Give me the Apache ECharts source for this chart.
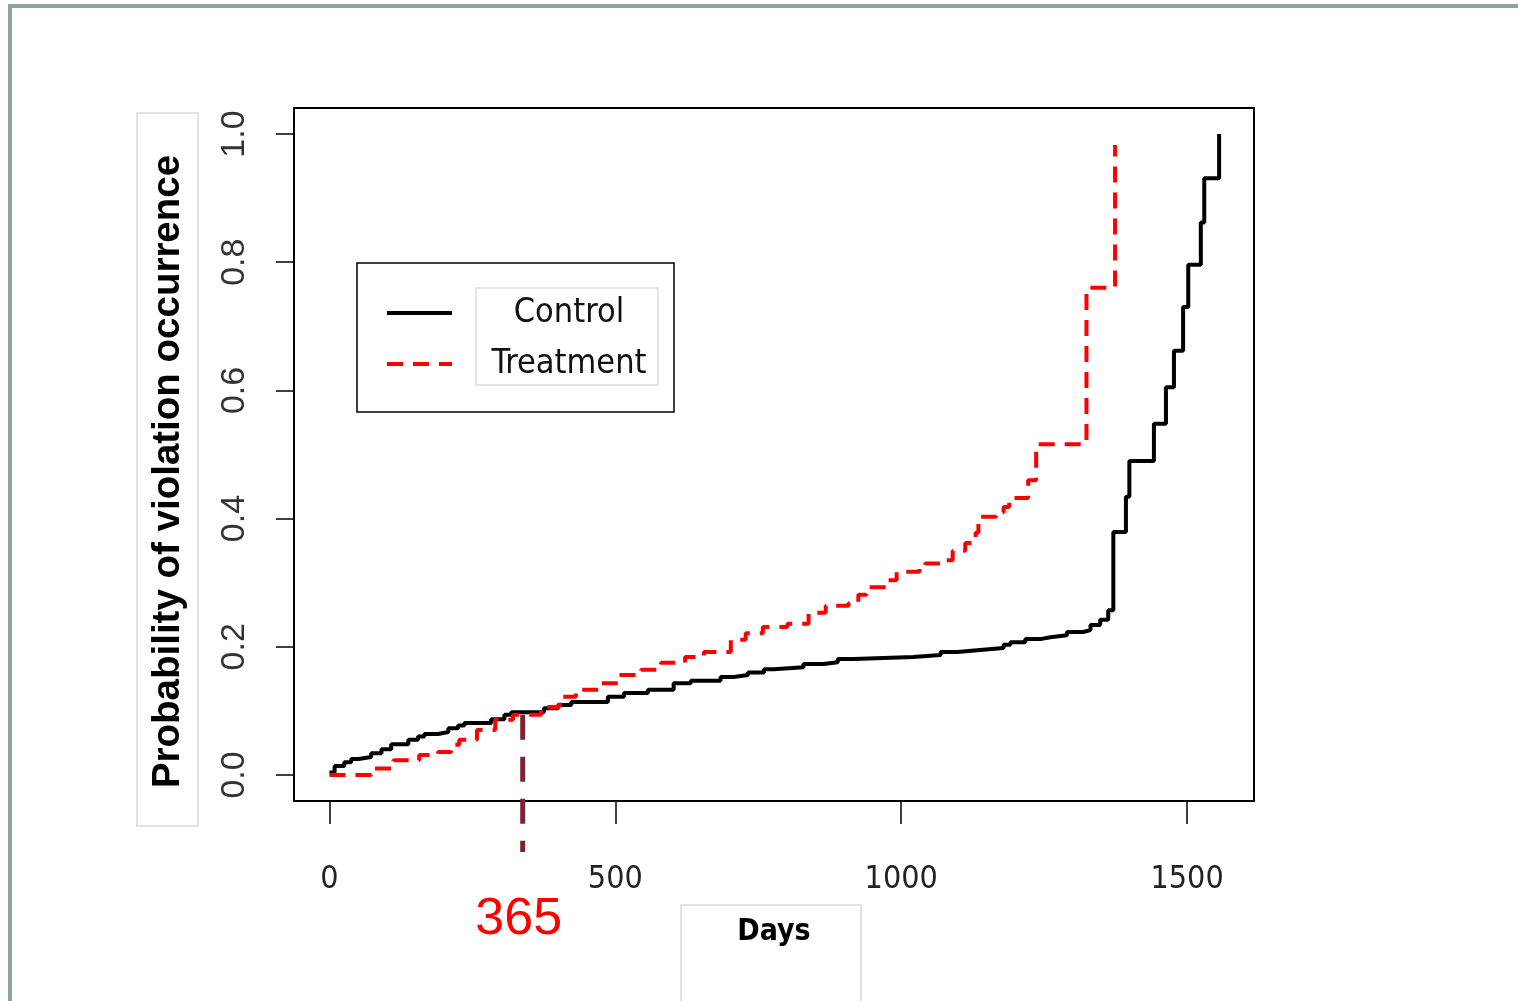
<!DOCTYPE html>
<html>
<head>
<meta charset="utf-8">
<script src="https://cdn.jsdelivr.net/npm/echarts@6/dist/echarts.min.js"></script>
<style>
html,body{margin:0;padding:0;background:#fff;}
#chart{width:1518px;height:1001px;}
</style>
</head>
<body>
<div id="chart"></div>
<script>
// ---- data ----
const controlDays = [0, 9, 26, 38, 51, 73, 91, 108, 138, 155, 166, 190, 208, 225, 236, 283, 306, 318, 375, 400, 423, 487, 515, 557, 602, 632, 684, 707, 732, 760, 777, 829, 864, 889, 917, 1021, 1069, 1098, 1138, 1179, 1191, 1217, 1243, 1261, 1290, 1318, 1331, 1348, 1362, 1371, 1393, 1399, 1442, 1463, 1477, 1493, 1502, 1524, 1530, 1556];
const controlProb = [0.004, 0.014, 0.020, 0.025, 0.028, 0.034, 0.040, 0.048, 0.055, 0.060, 0.064, 0.067, 0.073, 0.077, 0.081, 0.087, 0.094, 0.098, 0.104, 0.109, 0.114, 0.122, 0.128, 0.133, 0.143, 0.147, 0.153, 0.156, 0.160, 0.165, 0.168, 0.173, 0.176, 0.181, 0.184, 0.187, 0.192, 0.195, 0.198, 0.203, 0.207, 0.212, 0.215, 0.218, 0.223, 0.226, 0.234, 0.242, 0.257, 0.379, 0.434, 0.490, 0.548, 0.605, 0.662, 0.730, 0.796, 0.862, 0.931, 1.000];
const treatDays = [0, 73, 112, 157, 190, 213, 227, 258, 290, 321, 370, 402, 431, 471, 506, 545, 580, 622, 655, 702, 728, 758, 801, 838, 868, 908, 925, 939, 974, 992, 1032, 1042, 1069, 1090, 1112, 1130, 1135, 1166, 1179, 1189, 1222, 1236, 1324, 1374];
const treatProb = [0.000, 0.010, 0.023, 0.031, 0.036, 0.047, 0.055, 0.070, 0.086, 0.094, 0.106, 0.122, 0.133, 0.143, 0.156, 0.164, 0.175, 0.184, 0.192, 0.211, 0.221, 0.231, 0.236, 0.253, 0.264, 0.268, 0.281, 0.293, 0.304, 0.317, 0.325, 0.330, 0.335, 0.350, 0.362, 0.378, 0.403, 0.410, 0.418, 0.432, 0.460, 0.516, 0.760, 0.983];
const markerDays = [338, 338];
const markerProb = [0.094, -0.12];
const markerText = '365';
const xTicks = [0, 500, 1000, 1500];
const yTicks = [0, 0.2, 0.4, 0.6, 0.8, 1.0];
const seriesNames = ['Control', 'Treatment'];
const xTitle = 'Days';
const yTitle = 'Probability of violation occurrence';

const zip = (a, b) => a.map((v, i) => [v, b[i]]);
const narrow = '"Liberation Sans Narrow", "DejaVu Sans Condensed", "Liberation Sans", sans-serif';
const sans = '"Liberation Sans", Arial, sans-serif';

const chart = echarts.init(document.getElementById('chart'), null, {renderer: 'canvas'});
chart.setOption({
  animation: false,
  backgroundColor: '#ffffff',
  grid: {
    left: 294, right: 264, top: 108, bottom: 200,
    show: true, borderColor: '#000', borderWidth: 2, backgroundColor: 'transparent',
    containLabel: false, outerBoundsMode: 'none'
  },
  xAxis: {
    type: 'value', min: -62, max: 1617,
    splitLine: {show: false},
    axisLine: {show: false, onZero: false},
    axisTick: {show: true, inside: false, customValues: xTicks, length: 23, lineStyle: {color: '#000', width: 1.5}},
    axisLabel: {customValues: xTicks, margin: 63, fontSize: 32, fontFamily: narrow, color: '#222',
      formatter: v => String(v)},
    name: xTitle, nameLocation: 'middle', nameGap: 116,
    nameTextStyle: {fontSize: 30, fontWeight: 'bold', fontFamily: narrow, color: '#000'}
  },
  yAxis: {
    type: 'value', min: -0.0406, max: 1.0406,
    splitLine: {show: false},
    axisLine: {show: false, onZero: false},
    axisTick: {show: true, inside: false, customValues: yTicks, length: 18, lineStyle: {color: '#000', width: 1.5}},
    axisLabel: {customValues: yTicks, rotate: 90, margin: 42, fontSize: 34, fontFamily: sans, color: '#333',
      formatter: v => v.toFixed(1)},
    name: yTitle, nameLocation: 'middle', nameRotate: 90, nameGap: 106,
    nameTextStyle: {fontSize: 38.5, fontWeight: 'bold', fontFamily: sans, color: '#000', padding: [0, 34, 0, 0]}
  },
  legend: {
    data: seriesNames,
    orient: 'vertical', left: 357, top: 263,
    padding: [30, 14, 28, 28], itemGap: 11,
    itemWidth: 65, itemHeight: 20,
    borderColor: '#000', borderWidth: 1.5, backgroundColor: 'transparent',
    selectedMode: false,
    itemStyle: {opacity: 0},
    lineStyle: {width: 4},
    formatter: name => '{g|}{t|' + name + '}',
    textStyle: {
      color: '#111', fontSize: 34, fontFamily: narrow, lineHeight: 40,
      rich: {
        g: {width: 21},
        t: {width: 182, align: 'center', fontSize: 34, fontFamily: narrow, color: '#111', lineHeight: 40}
      }
    }
  },
  graphic: [
    {type: 'rect', silent: true, z: -10, shape: {x: 10, y: 6, width: 1600, height: 1100},
      style: {fill: 'none', stroke: '#8aa3a3', lineWidth: 4}},
    {type: 'rect', silent: true, z: -10, shape: {x: 137, y: 113, width: 61, height: 713},
      style: {fill: 'none', stroke: '#e2e2e2', lineWidth: 2}},
    {type: 'rect', silent: true, z: -10, shape: {x: 681, y: 905, width: 180, height: 130},
      style: {fill: 'none', stroke: '#e2e2e2', lineWidth: 2}},
    {type: 'rect', silent: true, z: -10, shape: {x: 476, y: 288, width: 182, height: 97},
      style: {fill: 'none', stroke: '#e6e6e6', lineWidth: 2}}
  ],
  series: [
    {
      name: seriesNames[0], type: 'line', step: 'end', symbol: 'none',
      data: zip(controlDays, controlProb),
      lineStyle: {color: '#000', width: 4}, itemStyle: {color: '#000'}, z: 3
    },
    {
      name: seriesNames[1], type: 'line', step: 'end', symbol: 'none',
      data: zip(treatDays, treatProb),
      lineStyle: {color: '#ff0000', width: 4, type: [16, 10]}, itemStyle: {color: '#ff0000'}, z: 4
    },
    {
      name: 'marker', type: 'line', clip: false, symbol: 'circle', symbolSize: 0.1, showSymbol: true,
      data: [[markerDays[0], markerProb[0]],
        {value: [markerDays[1], markerProb[1]],
          label: {show: true, formatter: markerText, position: 'bottom', distance: 42, offset: [-4, 0],
            color: '#ff0000', fontSize: 52, fontFamily: sans}}],
      lineStyle: {color: '#7d2433', width: 5, type: [25, 17]}, itemStyle: {color: '#7d2433'}, z: 5,
      label: {show: false}
    }
  ]
});
</script>
</body>
</html>
